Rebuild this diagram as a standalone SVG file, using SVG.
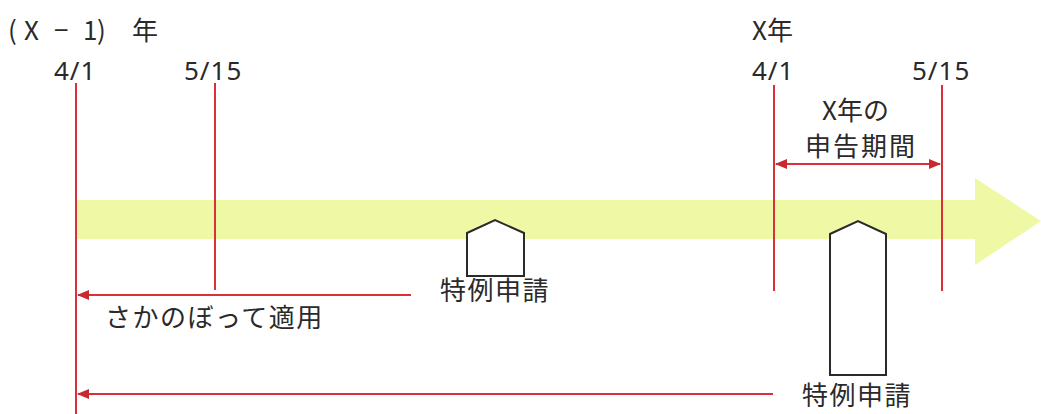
<svg xmlns="http://www.w3.org/2000/svg" width="1041" height="414" viewBox="0 0 1041 414">
<style>
.t{font-family:"Noto Sans CJK JP","Noto Sans",sans-serif;font-size:26px;fill:#2a2a2a}
.d{font-family:"Noto Sans","Liberation Sans",sans-serif;font-size:26px;fill:#2a2a2a;letter-spacing:1px}
.r{stroke:#d9303a;stroke-width:2;fill:none}
.sh{fill:#fff;stroke:#2a2a2a;stroke-width:2}
</style>
<defs>
<marker id="ah" viewBox="0 0 12 10" refX="11" refY="5" markerWidth="12" markerHeight="10" markerUnits="userSpaceOnUse" orient="auto-start-reverse">
<path d="M0,0 L12,5 L0,10 Z" fill="#c9282f"/>
</marker>
</defs>
<g id="timeline">
<path d="M76,200 H975 V178 L1041,221 L975,265 V239 H76 Z" fill="#eff8a4"/>
</g>
<g id="labels">
<text class="t" x="8 24 54 83 97 132" y="40">(X−1)年</text>
<text class="t" x="752" y="40">X年</text>
<text class="d" x="54" y="80">4/1</text>
<text class="d" x="184" y="80">5/15</text>
<text class="d" x="752" y="80">4/1</text>
<text class="d" x="912" y="80">5/15</text>
<text class="t" x="822" y="120" font-size="25">X年の</text>
<text class="t" x="805" y="156" font-size="25" letter-spacing="2">申告期間</text>
<text class="t" x="105" y="327" letter-spacing="1.5">さかのぼって適用</text>
</g>
<g id="connectors">
<line class="r" x1="76" y1="83" x2="76" y2="414"/>
<line class="r" x1="215" y1="83" x2="215" y2="290"/>
<line class="r" x1="774" y1="85" x2="774" y2="291"/>
<line class="r" x1="942" y1="85" x2="942" y2="291"/>
<line class="r" x1="776" y1="164" x2="940" y2="164" marker-start="url(#ah)" marker-end="url(#ah)"/>
<line class="r" x1="411" y1="295" x2="78" y2="295" marker-end="url(#ah)"/>
<line class="r" x1="773" y1="394" x2="78" y2="394" marker-end="url(#ah)"/>
</g>
<g id="apply1">
<path class="sh" d="M467,276 V233 L495,220 L524,233 V276 Z"/>
<text class="t" x="440" y="300" letter-spacing="1.5">特例申請</text>
</g>
<g id="apply2">
<path class="sh" d="M830,375 V234 L858,221 L886,234 V375 Z"/>
<text class="t" x="802" y="405" letter-spacing="1.5">特例申請</text>
</g>
</svg>
